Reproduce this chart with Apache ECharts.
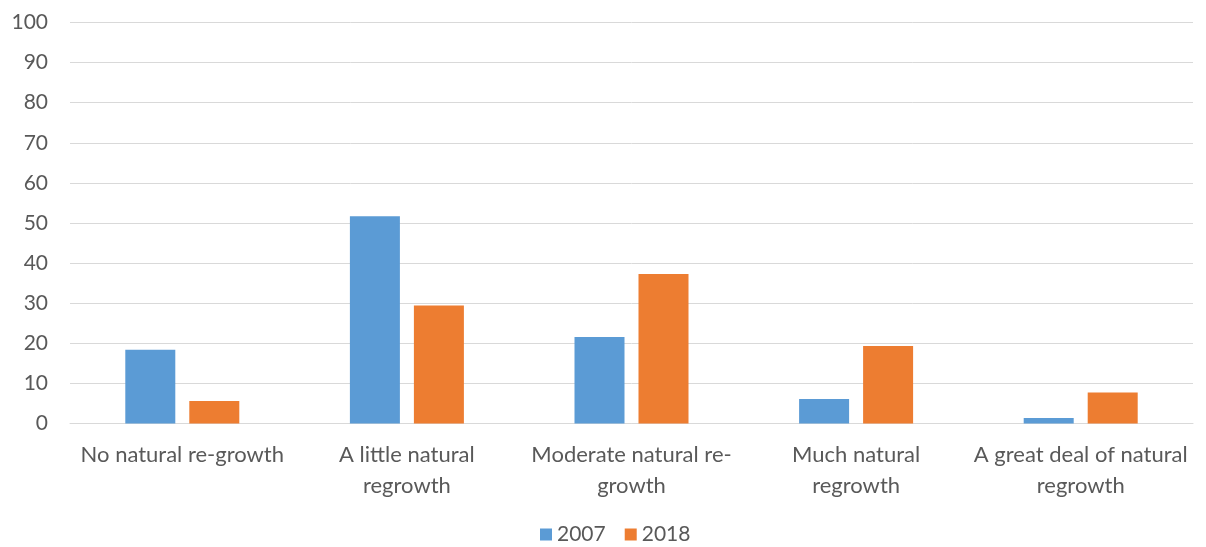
<!DOCTYPE html>
<html><head><meta charset="utf-8">
<script src="https://cdn.jsdelivr.net/npm/echarts@6/dist/echarts.min.js"></script>
<style>html,body{margin:0;padding:0;background:#fff}#c{width:1206px;height:547px}</style>
</head><body><div id="c"></div>
<script>
const categories = ["No natural re-growth", "A little natural\nregrowth", "Moderate natural re-\ngrowth", "Much natural\nregrowth", "A great deal of natural\nregrowth"];
const series2007 = [18.4, 51.7, 21.6, 6.1, 1.4];
const series2018 = [5.6, 29.4, 37.3, 19.3, 7.7];
const seriesNames = ["2007", "2018"];
const font = "Lato";
const chart = echarts.init(document.getElementById('c'));
chart.setOption({
  animation: false,
  textStyle: {fontFamily: font},
  grid: {left: 70, right: 13, top: 22.5, bottom: 123.5, containLabel: false},
  legend: {
    bottom: -3, left: 535, itemWidth: 12, itemHeight: 12, itemGap: 19,
    icon: 'rect',
    textStyle: {fontFamily: font, fontSize: 21, color: '#595959'},
    data: seriesNames
  },
  xAxis: {
    type: 'category', data: categories,
    axisLine: {lineStyle: {color: '#D9D9D9', width: 1}},
    axisTick: {show: false},
    axisLabel: {fontFamily: font, fontSize: 22, color: '#595959', lineHeight: 31, margin: 16, interval: 0}
  },
  yAxis: {
    type: 'value', min: 0, max: 100, interval: 10,
    axisLine: {show: false}, axisTick: {show: false},
    splitLine: {lineStyle: {color: '#D9D9D9', width: 1}},
    axisLabel: {fontFamily: font, fontSize: 21, color: '#595959', margin: 22}
  },
  series: [
    {name: seriesNames[0], type: 'bar', data: series2007, barWidth: 50, barGap: '28%', itemStyle: {color: '#5B9BD5'}},
    {name: seriesNames[1], type: 'bar', data: series2018, barWidth: 50, itemStyle: {color: '#ED7D31'}}
  ]
});
</script></body></html>
